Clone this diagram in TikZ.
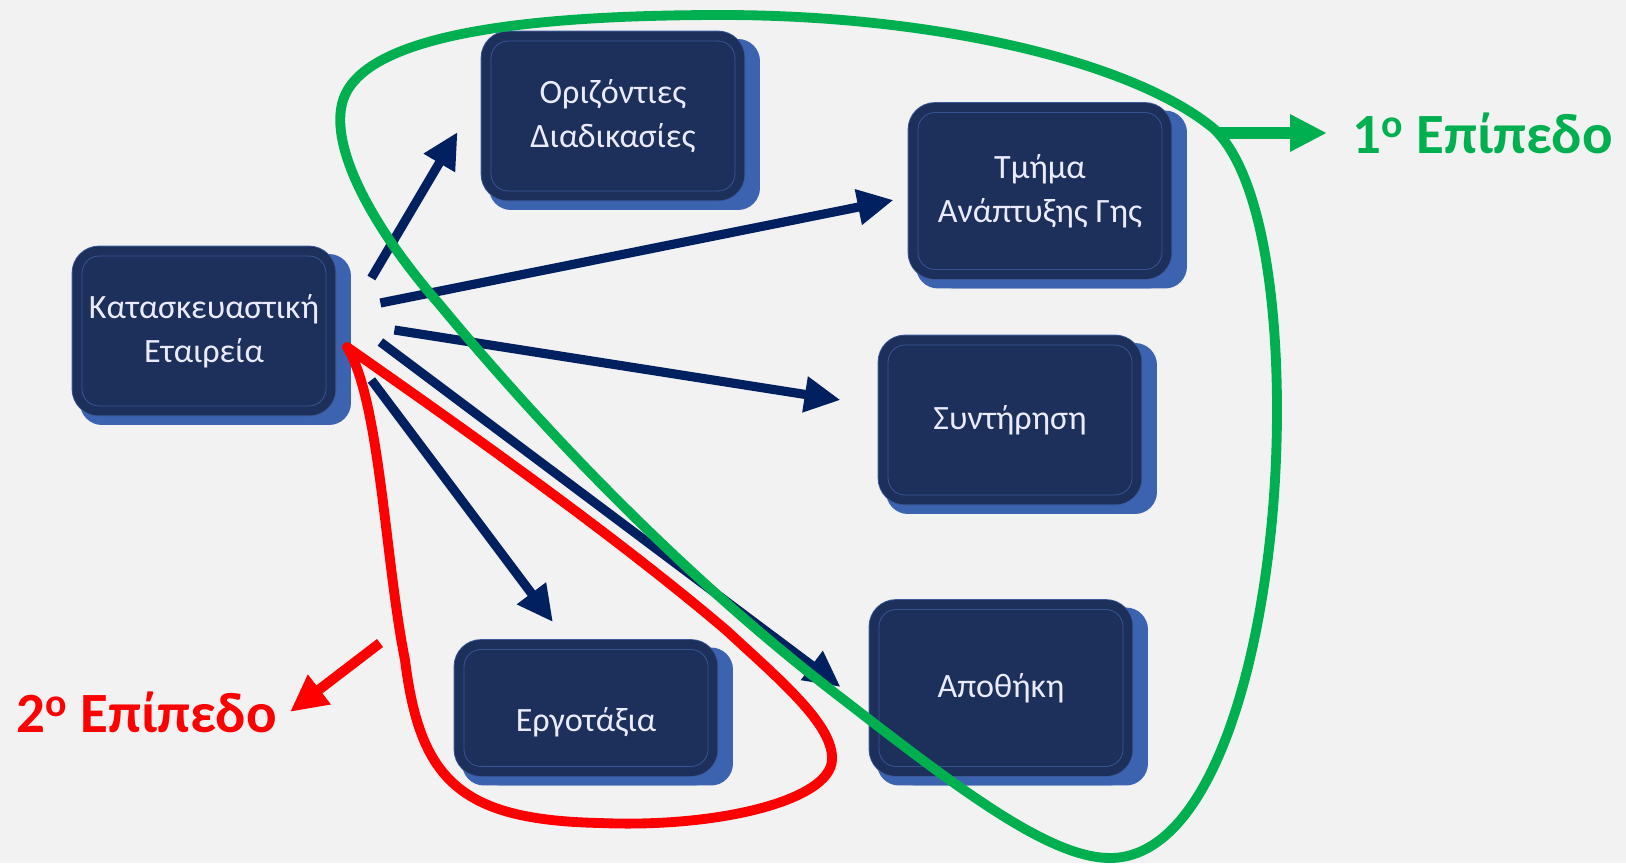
\documentclass[tikz,border=0pt]{standalone}
\usepackage{fontspec}
\setmainfont{Carlito}
\usepackage{xcolor}
\usetikzlibrary{arrows.meta,shadows}

\definecolor{navy}{HTML}{002060}
\definecolor{boxface}{HTML}{1D2F5B}
\definecolor{boxrim}{HTML}{3A5898}
\definecolor{bevel}{HTML}{3B63AF}
\definecolor{lvlgreen}{HTML}{00B050}
\definecolor{lvlred}{HTML}{FF0000}
\definecolor{bgcol}{HTML}{F2F2F2}

\tikzset{
  unitbox/.style={rounded corners=0.44cm, fill=boxface, draw=boxrim, line width=0.5pt,
    double=boxface, double distance=0.18cm,
    general shadow={fill=bevel, shadow xshift=0.4cm, shadow yshift=-0.06cm},
    general shadow={fill=bevel, shadow xshift=0.06cm, shadow yshift=-0.28cm},
    general shadow={fill=bevel, shadow xshift=0.4cm, shadow yshift=-0.28cm},
    minimum width=5.08cm, minimum height=3.2cm, align=center,
    text=white!92!blue, font=\fontsize{19.4}{25}\selectfont},
  flow/.style={draw=navy, line width=5.2pt, -{Triangle[length=0.72cm,width=0.68cm]}},
  levelline/.style={line width=5.6pt, line cap=round, line join=round},
  lvl/.style={font=\bfseries\fontsize{32.4}{36}\selectfont}
}

\begin{document}
\begin{tikzpicture}[x=0.02cm, y=-0.02cm]
    \useasboundingbox (0,0) rectangle (1626,863);
    \fill[bgcol] (0,0) rectangle (1626,863);

    % Units
    \node (comp)  [unitbox] at (204,331) {Κατασκευαστική\\Εταιρεία};
    \node (oriz)  [unitbox] at (613,116) {Οριζόντιες\\Διαδικασίες};
    \node (tmima) [unitbox, minimum height=3.34cm] at (1040,191) {Τμήμα\\Ανάπτυξης Γης};
    \node (sunt)  [unitbox] at (1010,420) {Συντήρηση};
    \node (apoth) [unitbox, minimum height=3.34cm] at (1001,688) {Αποθήκη};
    \node (ergo)  [unitbox, minimum height=2.54cm, text height=1.07cm, text depth=0.14cm] at (586,708) {Εργοτάξια};

    % Links from the company
    \draw[flow] ([shift={(40,-53)}]comp.east) -- ([shift={(-28,16)}]oriz.west);
    \draw[flow] ([shift={(49,-28)}]comp.east) -- ([shift={(-19,9)}]tmima.west);
    \draw[flow] ([shift={(63,-1)}]comp.east) -- ([shift={(-42,-20)}]sunt.west);
    \draw[flow] ([shift={(49,11)}]comp.east) -- ([shift={(-33,-1)}]apoth.west);
    \draw[flow] ([shift={(40,49)}]comp.east) -- ([shift={(-33,-22)}]ergo.north);

    % 1st level
    \draw[levelline, lvlgreen] (722,15)
      .. controls (930,15) and (1130,60) .. (1213,128)
      .. controls (1275,185) and (1285,380) .. (1272,520)
      .. controls (1255,700) and (1200,858) .. (1110,858)
      .. controls (1050,858) and (960,790) .. (844,700)
      .. controls (700,590) and (560,450) .. (440,305)
      .. controls (370,225) and (325,140) .. (345,95)
      .. controls (370,40) and (500,15) .. cycle;
    \coordinate (gstart) at (1217,133);
    \node (lvlone) [lvl, text=lvlgreen, anchor=west, inner xsep=0.5cm] at (1327,133) {1\textsuperscript{ο} Επίπεδο};
    \draw[lvlgreen, line width=7.2pt, -{Triangle[length=0.74cm,width=0.7cm]}] (gstart) -- (lvlone);

    % 2nd level
    \draw[levelline, lvlred] (347,347)
      .. controls (380,400) and (385,560) .. (405,660)
      .. controls (420,780) and (460,820) .. (600,823)
      .. controls (720,828) and (830,800) .. (832,760)
      .. controls (834,725) and (780,680) .. (726,630)
      .. controls (620,540) and (480,440) .. (347,347);
    \coordinate (rstart) at (380,643);
    \node (lvltwo) [lvl, text=lvlred, anchor=base east, inner xsep=0.26cm] at (290,732) {2\textsuperscript{ο} Επίπεδο};
    \draw[lvlred, line width=5.7pt, -{Triangle[length=0.74cm,width=0.7cm]}] (rstart) -- (lvltwo.east);
\end{tikzpicture}
\end{document}
